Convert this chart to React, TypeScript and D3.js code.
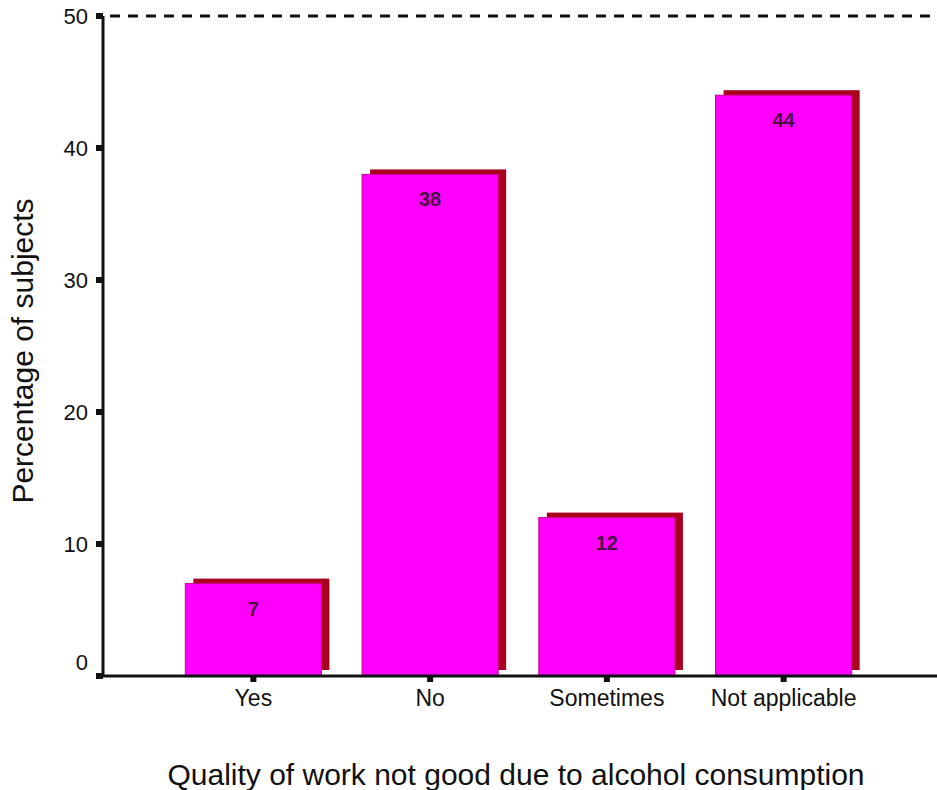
import React from "react";
import * as d3 from "d3";

const categories = ["Yes", "No", "Sometimes", "Not applicable"];
const values = [7, 38, 12, 44];
const yTicks = [0, 10, 20, 30, 40, 50];

export default function App() {
  const W = 937, H = 790;
  const y = d3.scaleLinear().domain([0, 50]).range([676, 16]);
  const x = d3.scaleBand().domain(categories).range([165, 872]).paddingInner(0.23).paddingOuter(0.115);
  const dx = 8, dy = -5;
  const font = "Liberation Sans, Arial, sans-serif";
  return (
    <svg width={W} height={H} style={{ position: "absolute", left: 0, top: 0 }} fontFamily={font}>
      <rect width={W} height={H} fill="#fff" />
      {/* dashed top line */}
      <line x1={110} x2={937} y1={y(50)} y2={y(50)} stroke="#111" strokeWidth={3} strokeDasharray="10 8" />
      {/* bars */}
      {categories.map((c, i) => {
        const x0 = x(c)!;
        const bw = x.bandwidth();
        const top = y(values[i]);
        return (
          <g key={c}>
            <rect x={x0 + dx} y={top + dy} width={bw} height={y(0) - top - dy - 6} fill="#a8001e" />
            <rect x={x0} y={top} width={bw} height={y(0) - top} fill="#ff00ff" stroke="#d0008a" strokeWidth={1} />
            <text x={x0 + bw / 2} y={top + 32} textAnchor="middle" fontSize={20} fontWeight="bold" fill="#4a1044">{values[i]}</text>
          </g>
        );
      })}
      {/* axes */}
      <line x1={103} x2={103} y1={y(50)} y2={y(0)} stroke="#111" strokeWidth={3} />
      <line x1={97} x2={937} y1={y(0)} y2={y(0)} stroke="#111" strokeWidth={3} />
      {yTicks.map(t => (
        <g key={t}>
          <rect x={96} y={y(t) - 3} width={7} height={6} fill="#111" />
          <text x={88} y={y(t) + (t === 0 ? -6 : 8)} textAnchor="end" fontSize={22} fill="#111">{t}</text>
        </g>
      ))}
      {categories.map(c => {
        const cx = x(c)! + x.bandwidth() / 2;
        return (
          <g key={c}>
            <rect x={cx - 3} y={y(0)} width={6} height={6} fill="#111" />
            <text x={cx} y={706} textAnchor="middle" fontSize={23} fill="#111">{c}</text>
          </g>
        );
      })}
      <text transform={`translate(33,351) rotate(-90)`} textAnchor="middle" fontSize={30} fill="#111">Percentage of subjects</text>
      <text x={516} y={785} textAnchor="middle" fontSize={30} fill="#111">Quality of work not good due to alcohol consumption</text>
    </svg>
  );
}
